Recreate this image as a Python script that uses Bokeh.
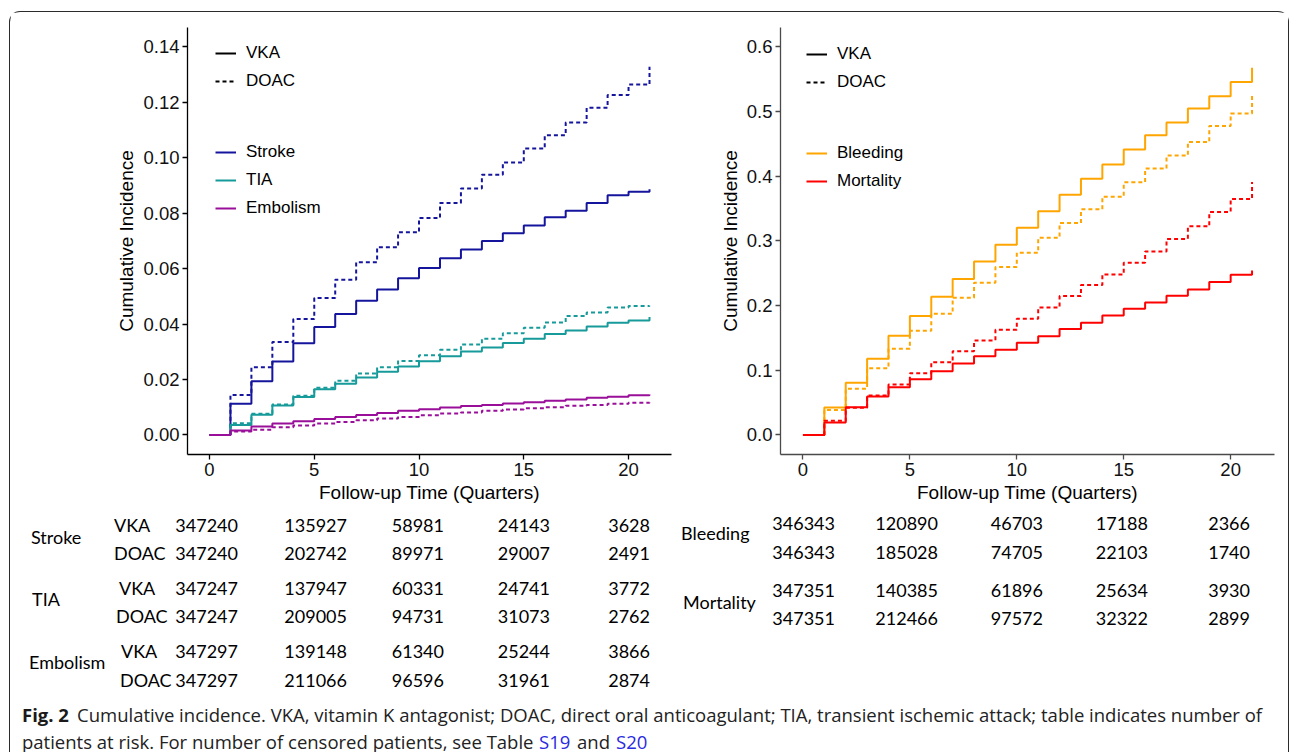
from bokeh.plotting import figure
from bokeh.layouts import column, row
from bokeh.models import Legend, LegendItem, Range1d, FixedTicker, ColumnDataSource
from bokeh.embed import file_html
from bokeh.resources import INLINE
from bokeh.core.properties import value

# ---------------- data ----------------
quarters = list(range(22))

stroke_vka = [0, 0.0112, 0.0194, 0.0265, 0.0331, 0.0389, 0.0436, 0.0484, 0.0525, 0.0565, 0.0602,
              0.0637, 0.0669, 0.0700, 0.0728, 0.0756, 0.0785, 0.0809, 0.0837, 0.0865, 0.0877, 0.0886]
stroke_doac = [0, 0.0144, 0.0244, 0.0335, 0.0418, 0.0494, 0.0560, 0.0623, 0.0677, 0.0731, 0.0783,
               0.0837, 0.0889, 0.0939, 0.0983, 0.1033, 0.1081, 0.1127, 0.1180, 0.1226, 0.1264, 0.1328]
tia_vka = [0, 0.0036, 0.0073, 0.0106, 0.0137, 0.0165, 0.0185, 0.0207, 0.0228, 0.0247, 0.0266,
           0.0284, 0.0301, 0.0315, 0.0332, 0.0347, 0.0364, 0.0377, 0.0391, 0.0405, 0.0413, 0.0425]
tia_doac = [0, 0.0042, 0.0076, 0.0110, 0.0141, 0.0170, 0.0195, 0.0222, 0.0244, 0.0267, 0.0287,
            0.0307, 0.0326, 0.0347, 0.0367, 0.0387, 0.0406, 0.0429, 0.0442, 0.0460, 0.0465, 0.0466]
emb_vka = [0, 0.0016, 0.0030, 0.0041, 0.0049, 0.0057, 0.0065, 0.0072, 0.0079, 0.0087, 0.0093,
           0.0099, 0.0104, 0.0108, 0.0113, 0.0118, 0.0123, 0.0128, 0.0134, 0.0138, 0.0143, 0.0146]
emb_doac = [0, 0.0012, 0.0019, 0.0028, 0.0034, 0.0041, 0.0047, 0.0053, 0.0059, 0.0065, 0.0071,
            0.0077, 0.0081, 0.0087, 0.0092, 0.0096, 0.0100, 0.0105, 0.0108, 0.0112, 0.0116, 0.0117]

bleed_vka = [0, 0.0423, 0.0805, 0.1176, 0.1532, 0.1837, 0.2136, 0.2410, 0.2683, 0.2941, 0.3204,
             0.3457, 0.3715, 0.3963, 0.4180, 0.4412, 0.4634, 0.4830, 0.5046, 0.5237, 0.5459, 0.5676]
bleed_doac = [0, 0.0387, 0.0712, 0.1032, 0.1331, 0.1610, 0.1873, 0.2121, 0.2353, 0.2595, 0.2817,
              0.3050, 0.3277, 0.3488, 0.3684, 0.3906, 0.4118, 0.4319, 0.4530, 0.4778, 0.4969, 0.5243]
mort_vka = [0, 0.0191, 0.0428, 0.0593, 0.0738, 0.0862, 0.0986, 0.1104, 0.1218, 0.1316, 0.1424,
            0.1527, 0.1636, 0.1734, 0.1847, 0.1950, 0.2048, 0.2152, 0.2250, 0.2363, 0.2477, 0.2544]
mort_doac = [0, 0.0217, 0.0418, 0.0609, 0.0779, 0.0955, 0.1125, 0.1295, 0.1460, 0.1625, 0.1796,
             0.1971, 0.2147, 0.2317, 0.2482, 0.2663, 0.2838, 0.3029, 0.3225, 0.3447, 0.3648, 0.3911]

x_ticks = [0, 5, 10, 15, 20]
left_y_ticks = [0.00, 0.02, 0.04, 0.06, 0.08, 0.10, 0.12, 0.14]
right_y_ticks = [0.0, 0.1, 0.2, 0.3, 0.4, 0.5, 0.6]

treatments = ["VKA", "DOAC"]
left_outcomes = ["Stroke", "TIA", "Embolism"]
right_outcomes = ["Bleeding", "Mortality"]

stroke_risk_vka = [347240, 135927, 58981, 24143, 3628]
stroke_risk_doac = [347240, 202742, 89971, 29007, 2491]
tia_risk_vka = [347247, 137947, 60331, 24741, 3772]
tia_risk_doac = [347247, 209005, 94731, 31073, 2762]
emb_risk_vka = [347297, 139148, 61340, 25244, 3866]
emb_risk_doac = [347297, 211066, 96596, 31961, 2874]
bleed_risk_vka = [346343, 120890, 46703, 17188, 2366]
bleed_risk_doac = [346343, 185028, 74705, 22103, 1740]
mort_risk_vka = [347351, 140385, 61896, 25634, 3930]
mort_risk_doac = [347351, 212466, 97572, 32322, 2899]

caption_bold = "Fig. 2"
caption_line1 = ("Cumulative incidence. VKA, vitamin K antagonist; DOAC, direct oral anticoagulant; "
                 "TIA, transient ischemic attack; table indicates number of")
caption_line2 = "patients at risk. For number of censored patients, see Table"
caption_links = ["S19", "S20"]
caption_and = "and"

# ---------------- styles ----------------
COL = {"Stroke": "#14149c", "TIA": "#169a9a", "Embolism": "#990f99",
       "Bleeding": "#ffa500", "Mortality": "#ff0000"}
DASH = "4 3"
LW = 2
AX_FONT = "Liberation Sans"
TBL_FONT = "Lato"
CAP_FONT = "Open Sans"
CAP_SIZE = "18.5px"


def make_plot(width, min_left, min_right, y_lo, y_hi, yticks, yfmt, axis_color):
    p = figure(width=width, height=500, output_backend="svg", toolbar_location=None,
               x_range=Range1d(-1.05, 22.05), y_range=Range1d(y_lo, y_hi),
               min_border_left=min_left, min_border_right=min_right,
               min_border_top=15, min_border_bottom=58)
    p.grid.visible = False
    p.outline_line_color = None
    p.background_fill_color = "white"
    p.border_fill_color = "white"
    p.xaxis.ticker = FixedTicker(ticks=x_ticks)
    p.yaxis.ticker = FixedTicker(ticks=yticks)
    p.yaxis.major_label_overrides = {t: format(t, yfmt) for t in yticks}
    for ax in (p.xaxis, p.yaxis):
        ax.axis_line_color = axis_color
        ax.axis_line_width = 1.3
        ax.major_tick_line_color = axis_color
        ax.major_tick_line_width = 1.3
        ax.major_tick_out = 5
        ax.major_tick_in = 0
        ax.minor_tick_line_color = None
        ax.major_label_text_font = AX_FONT
        ax.major_label_text_font_size = "18.5px"
        ax.major_label_text_color = "#111111"
        ax.major_label_standoff = 3
        ax.axis_label_text_font = AX_FONT
        ax.axis_label_text_font_size = "19px"
        ax.axis_label_text_font_style = "normal"
        ax.axis_label_text_color = "black"
        ax.axis_label_standoff = 3
    p.xaxis.axis_label = "Follow-up Time (Quarters)"
    p.yaxis.axis_label = "Cumulative Incidence"
    return p


def add_legends(p, outcomes, y_top1, y_top2, vx):
    fh = 427
    # legend-only renderers, placed outside the visible ranges
    hx, hy = [-100, -99], [-1, -1]
    r_solid = p.line(hx, hy, line_color="black", line_width=LW)
    r_dash = p.line(hx, hy, line_color="black", line_width=LW, line_dash=DASH)
    items1 = [LegendItem(label=treatments[0], renderers=[r_solid]),
              LegendItem(label=treatments[1], renderers=[r_dash])]
    items2 = []
    for o in outcomes:
        r = p.line(hx, hy, line_color=COL[o], line_width=LW)
        items2.append(LegendItem(label=o, renderers=[r]))
    for items, top in ((items1, y_top1), (items2, y_top2)):
        n = len(items)
        h = n * 20 + (n - 1) * 8
        lg = Legend(items=items, location=(vx, fh - top - h), orientation="vertical",
                    border_line_color=None, background_fill_alpha=0, padding=0, spacing=8,
                    margin=0, glyph_width=21, glyph_height=20, label_height=20,
                    label_standoff=10, label_text_font=AX_FONT, label_text_font_size="17px",
                    label_text_color="black")
        p.add_layout(lg, "center")


# ---------------- left plot ----------------
pl = make_plot(690, 177, 29, -0.00707, 0.147, left_y_ticks, ".2f", "black")
for o, (yv, yd) in zip(left_outcomes, [(stroke_vka, stroke_doac), (tia_vka, tia_doac), (emb_vka, emb_doac)]):
    pl.step(quarters, yd, mode="after", line_color=COL[o], line_width=LW, line_dash=DASH)
    pl.step(quarters, yv, mode="after", line_color=COL[o], line_width=LW)
add_legends(pl, left_outcomes, 15.7, 114.7, 28)

# ---------------- right plot ----------------
pr = make_plot(588, 80, 14, -0.0303, 0.630, right_y_ticks, ".1f", "#4a4a4a")
for o, (yv, yd) in zip(right_outcomes, [(bleed_vka, bleed_doac), (mort_vka, mort_doac)]):
    pr.step(quarters, yd, mode="after", line_color=COL[o], line_width=LW, line_dash=DASH)
    pr.step(quarters, yv, mode="after", line_color=COL[o], line_width=LW)
add_legends(pr, right_outcomes, 16.7, 115.7, 26)

# ---------------- table + caption ----------------
BW, BH = 1278, 240
X0, Y0 = 10.5, 513.5
pb = figure(width=BW, height=BH, output_backend="svg", toolbar_location=None,
            x_range=Range1d(X0, X0 + BW), y_range=Range1d(Y0 + BH, Y0),
            min_border=0)
pb.axis.visible = False
pb.grid.visible = False
pb.outline_line_color = None

# left table layout
l_num_right = [238, 347, 444, 550, 650]
l_row_y = [526, 554, 589, 617, 652, 681]
l_trt_x = [114, 114, 119, 116, 121, 120]
l_grp_x = [31, 32, 29]
l_grp_y = [538, 600, 663]
left_rows = [stroke_risk_vka, stroke_risk_doac, tia_risk_vka, tia_risk_doac, emb_risk_vka, emb_risk_doac]

# right table layout
r_num_right = [835, 938, 1043, 1148, 1250]
r_row_y = [524, 553, 591, 619]
r_grp_x = [681, 683]
r_grp_y = [534, 603]
right_rows = [bleed_risk_vka, bleed_risk_doac, mort_risk_vka, mort_risk_doac]

tx, ty, tt = [], [], []
for i, vals in enumerate(left_rows):
    for j, v in enumerate(vals):
        tx.append(l_num_right[j]); ty.append(l_row_y[i]); tt.append(str(v))
for i, vals in enumerate(right_rows):
    for j, v in enumerate(vals):
        tx.append(r_num_right[j]); ty.append(r_row_y[i]); tt.append(str(v))
pb.text(x="x", y="y", text="t", source=ColumnDataSource(dict(x=tx, y=ty, t=tt)),
        text_align="right", text_baseline="middle", text_font=value(TBL_FONT),
        text_font_size="18px", text_color="black")

lx, ly, lt = [], [], []
for i in range(6):
    lx.append(l_trt_x[i]); ly.append(l_row_y[i]); lt.append(treatments[i % 2])
for i, o in enumerate(left_outcomes):
    lx.append(l_grp_x[i]); ly.append(l_grp_y[i]); lt.append(o)
for i, o in enumerate(right_outcomes):
    lx.append(r_grp_x[i]); ly.append(r_grp_y[i]); lt.append(o)
pb.text(x="x", y="y", text="t", source=ColumnDataSource(dict(x=lx, y=ly, t=lt)),
        text_align="left", text_baseline="middle", text_font=value(TBL_FONT),
        text_font_size="18px", text_color="black")

# caption
cap_y1, cap_y2 = 715, 742
pb.text(x=[22], y=[cap_y1], text=[caption_bold], text_baseline="middle",
        text_font=value(CAP_FONT), text_font_style="bold", text_font_size=CAP_SIZE, text_color="#1a1a1a")
pb.text(x=[77], y=[cap_y1], text=[caption_line1], text_baseline="middle",
        text_font=value(CAP_FONT), text_font_size=CAP_SIZE, text_color="#222222")
pb.text(x=[22], y=[cap_y2], text=[caption_line2], text_baseline="middle",
        text_font=value(CAP_FONT), text_font_size=CAP_SIZE, text_color="#222222")
pb.text(x=[539, 616], y=[cap_y2, cap_y2], text=caption_links, text_baseline="middle",
        text_font=value(CAP_FONT), text_font_size=CAP_SIZE, text_color="#2a2ae0")
pb.text(x=[577], y=[cap_y2], text=[caption_and], text_baseline="middle",
        text_font=value(CAP_FONT), text_font_size=CAP_SIZE, text_color="#222222")

layout = column(row(pl, pr), pb,
                styles={"border": "1.5px solid #2b2b2b", "border-bottom": "none",
                        "border-radius": "11px 11px 0 0", "margin-top": "11px",
                        "margin-left": "9px"})

open("out.html", "w").write(file_html(layout, INLINE))
